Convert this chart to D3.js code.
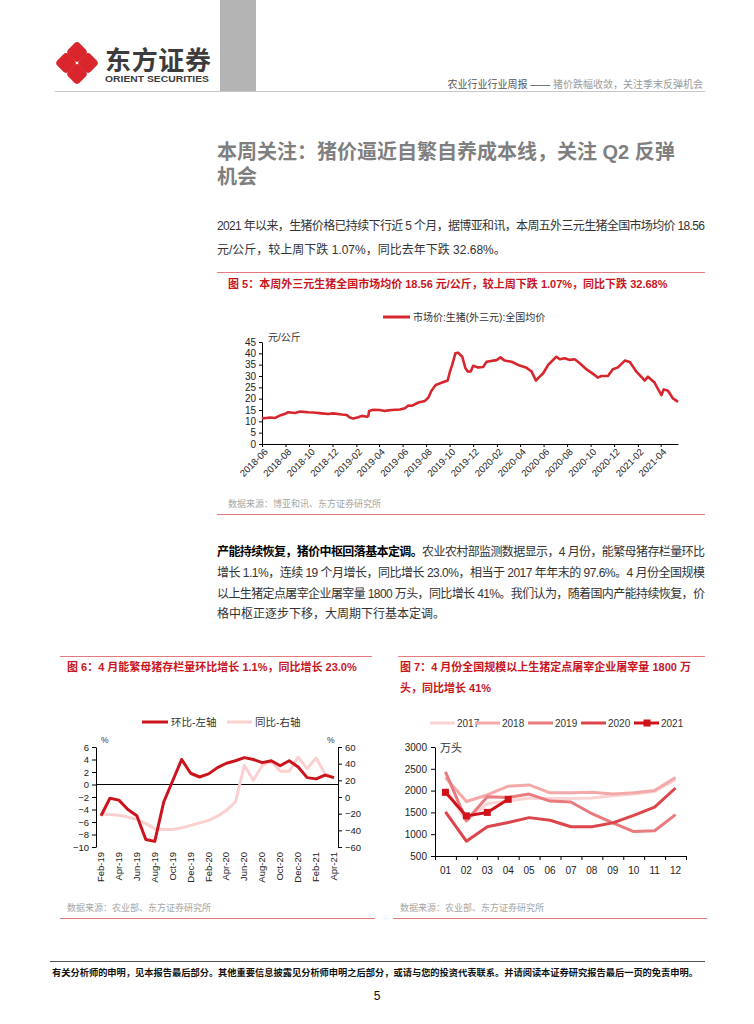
<!DOCTYPE html>
<html><head><meta charset="utf-8">
<script src="https://cdn.jsdelivr.net/npm/d3@7"></script>
<style>
body{margin:0;background:#fff}
svg{display:block}
text{font-family:"Liberation Sans","Noto Sans CJK SC",sans-serif}
</style>
</head><body>
<svg id="c" width="754" height="1024"></svg>
<script>
// ---------------- DATA ----------------
const priceDates = ["2018-06-01","2018-06-12","2018-06-22","2018-07-05","2018-07-18","2018-07-31","2018-08-08","2018-08-26","2018-09-08","2018-09-29","2018-10-20","2018-11-03","2018-11-20","2018-12-03","2018-12-25","2019-01-07","2019-01-15","2019-01-24","2019-02-06","2019-02-15","2019-02-28","2019-03-04","2019-03-06","2019-03-17","2019-04-03","2019-04-16","2019-05-03","2019-05-25","2019-06-07","2019-06-16","2019-06-26","2019-07-12","2019-07-29","2019-08-07","2019-08-15","2019-08-26","2019-09-10","2019-09-26","2019-10-02","2019-10-08","2019-10-16","2019-10-23","2019-11-03","2019-11-11","2019-11-17","2019-11-25","2019-12-01","2019-12-14","2019-12-27","2020-01-05","2020-01-31","2020-02-10","2020-02-21","2020-03-10","2020-03-31","2020-04-18","2020-05-01","2020-05-12","2020-05-22","2020-05-31","2020-06-13","2020-07-04","2020-07-13","2020-07-26","2020-08-08","2020-08-21","2020-09-03","2020-09-20","2020-10-03","2020-10-20","2020-10-29","2020-11-15","2020-11-28","2020-12-11","2020-12-29","2021-01-11","2021-01-28","2021-02-19","2021-02-27","2021-03-16","2021-04-03","2021-04-09","2021-04-20","2021-05-03","2021-05-16"];
const priceValues = [11.3,11.5,11.7,11.5,12.6,13.3,14.0,13.7,14.3,14.0,13.8,13.5,13.2,13.5,13.0,12.8,11.7,11.2,11.8,12.4,12.0,12.3,14.6,15.1,15.0,14.6,15.0,15.2,15.8,17.0,16.9,18.3,19.0,20.5,23.5,26.0,27.0,28.0,32.0,35.0,40.0,40.3,38.5,33.5,32.0,32.0,34.5,33.8,34.0,36.3,37.0,38.2,36.8,36.3,34.6,33.6,32.0,28.0,29.7,31.2,34.9,38.5,37.4,37.8,37.1,37.4,35.6,33.0,31.5,29.3,30.0,30.0,33.0,33.8,36.8,36.2,31.9,28.0,29.7,27.1,21.6,24.1,23.5,20.1,18.6];
const priceTickLabels = ["2018-06","2018-08","2018-10","2018-12","2019-02","2019-04","2019-06","2019-08","2019-10","2019-12","2020-02","2020-04","2020-06","2020-08","2020-10","2020-12","2021-02","2021-04"];
const priceYTicks = [0,5,10,15,20,25,30,35,40,45];

const sowMonths = ["2019-02","2019-03","2019-04","2019-05","2019-06","2019-07","2019-08","2019-09","2019-10","2019-11","2019-12","2020-01","2020-02","2020-03","2020-04","2020-05","2020-06","2020-07","2020-08","2020-09","2020-10","2020-11","2020-12","2021-01","2021-02","2021-03","2021-04"];
const sowMoM = [-5.0,-2.2,-2.5,-4.0,-5.0,-8.8,-9.1,-2.8,0.6,4.0,1.8,1.2,1.7,2.7,3.4,3.8,4.3,4.0,3.5,3.8,3.0,3.8,2.8,1.1,0.9,1.5,1.1];
const sowYoY = [-20,-21,-22,-24,-27,-32,-38,-39,-39,-37,-34,-31,-28,-23,-16,-6,38,20,38,43,31,31,48,34,47,28,23];
const sowLeftTicks = [-10,-8,-6,-4,-2,0,2,4,6];
const sowRightTicks = [-60,-40,-20,0,20,40,60];

const slaughterMonths = ["01","02","03","04","05","06","07","08","09","10","11","12"];
const slaughter2017 = [2050,1300,1700,1760,1830,1820,1820,1830,1880,1920,1980,2250];
const slaughter2018 = [2300,1750,1900,2100,2130,1950,1950,1960,1920,1950,2000,2300];
const slaughter2019 = [2430,1310,1860,1840,1920,1760,1740,1470,1260,1060,1080,1450];
const slaughter2020 = [1510,840,1170,1270,1380,1320,1170,1170,1260,1430,1620,2060];
const slaughter2021 = [1960,1420,1500,1800];
const slaughterYTicks = [500,1000,1500,2000,2500,3000];

// ---------------- DRAW ----------------
const svg = d3.select("#c");
const RED = "#c9161e";
const TXT = "#333333";
const parse = d3.timeParse("%Y-%m-%d");
const parseM = d3.timeParse("%Y-%m");

// ---- header ----
svg.append("rect").attr("x",220).attr("y",0).attr("width",36).attr("height",91).attr("fill","#b4b4b4");
svg.append("line").attr("x1",55).attr("x2",705).attr("y1",91.5).attr("y2",91.5).attr("stroke","#c8c8c8").attr("stroke-width",1);
// logo
const logo = svg.append("g").attr("transform","translate(77,63)");
[[0,-11],[11,0],[0,11],[-11,0]].forEach(([dx,dy])=>{
  logo.append("rect").attr("x",-8).attr("y",-8).attr("width",16).attr("height",16).attr("rx",4)
    .attr("transform",`translate(${dx},${dy}) rotate(45)`).attr("fill","#d9262c");
});
svg.append("text").attr("x",105).attr("y",70).attr("font-size",26).attr("font-weight","bold").attr("fill","#3c3c3c").attr("textLength",106).text("东方证券");
svg.append("text").attr("x",105).attr("y",82).attr("font-size",9).attr("font-weight","bold").attr("fill","#3c3c3c").attr("textLength",104).attr("lengthAdjust","spacingAndGlyphs").text("ORIENT SECURITIES");
const ht = svg.append("text").attr("x",703).attr("y",88).attr("text-anchor","end").attr("font-size",10);
ht.append("tspan").attr("fill","#555").text("农业行业行业周报 —— ");
ht.append("tspan").attr("fill","#9a9a9a").text("猪价跌幅收敛，关注季末反弹机会");

// ---- title ----
svg.append("text").attr("x",217).attr("y",159).attr("font-size",20).attr("font-weight","bold").attr("fill","#7f7f7f").text("本周关注：猪价逼近自繁自养成本线，关注 Q2 反弹");
svg.append("text").attr("x",217).attr("y",184).attr("font-size",20).attr("font-weight","bold").attr("fill","#7f7f7f").text("机会");

// ---- paragraph 1 ----
svg.append("text").attr("x",217).attr("y",230).attr("font-size",12).attr("fill",TXT).attr("textLength",488).attr("lengthAdjust","spacing")
  .text("2021 年以来，生猪价格已持续下行近 5 个月，据博亚和讯，本周五外三元生猪全国市场均价 18.56");
svg.append("text").attr("x",217).attr("y",254).attr("font-size",12).attr("fill",TXT)
  .text("元/公斤，较上周下跌 1.07%，同比去年下跌 32.68%。");

// ---- figure 5 ----
svg.append("line").attr("x1",217).attr("x2",705).attr("y1",272.5).attr("y2",272.5).attr("stroke","#e57a7e").attr("stroke-width",1.2);
svg.append("text").attr("x",228).attr("y",288).attr("font-size",11).attr("font-weight","bold").attr("fill",RED)
  .text("图 5：本周外三元生猪全国市场均价 18.56 元/公斤，较上周下跌 1.07%，同比下跌 32.68%");
svg.append("line").attr("x1",383).attr("x2",410).attr("y1",317).attr("y2",317).attr("stroke","#d7262e").attr("stroke-width",3);
svg.append("text").attr("x",413).attr("y",321).attr("font-size",10).attr("fill",TXT).text("市场价:生猪(外三元):全国均价");
svg.append("text").attr("x",268).attr("y",341).attr("font-size",10).attr("fill",TXT).text("元/公斤");

const x5 = d3.scaleTime().domain([parse(priceDates[0]), parse(priceDates[priceDates.length-1])]).range([262,678]);
const y5 = d3.scaleLinear().domain([0,45]).range([444,342]);
const g5 = svg.append("g");
g5.append("g").attr("transform","translate(262,0)")
  .call(d3.axisLeft(y5).tickValues(priceYTicks).tickSize(3).tickSizeOuter(0).tickPadding(3))
  .call(g=>{g.selectAll("text").attr("font-size",10).attr("fill","#222").style("font-family",'"Liberation Sans",sans-serif');});
const xa5 = g5.append("g").attr("transform","translate(0,444)")
  .call(d3.axisBottom(x5).tickValues(priceTickLabels.map(parseM)).tickSize(3).tickSizeOuter(0).tickFormat(d3.timeFormat("%Y-%m")));
xa5.selectAll("text").attr("font-size",9.5).attr("fill","#222").style("font-family",'"Liberation Sans",sans-serif')
  .attr("text-anchor","end").attr("transform","rotate(-45)").attr("dx","-0.2em").attr("dy","0.55em").attr("y",5).attr("x",0);
g5.selectAll(".domain,.tick line").attr("stroke","#000");
g5.append("path").datum(priceDates.map((d,i)=>[parse(d),priceValues[i]]))
  .attr("fill","none").attr("stroke","#d7262e").attr("stroke-width",2.6).attr("stroke-linejoin","round")
  .attr("d",d3.line().x(d=>x5(d[0])).y(d=>y5(d[1])));
svg.append("text").attr("x",228).attr("y",507).attr("font-size",9).attr("fill","#a6a6a6").text("数据来源：博亚和讯、东方证券研究所");
svg.append("line").attr("x1",217).attr("x2",705).attr("y1",514.5).attr("y2",514.5).attr("stroke","#e57a7e").attr("stroke-width",1.2);

// ---- paragraph 2 ----
const p2 = [
  {b:"产能持续恢复，猪价中枢回落基本定调。", t:"农业农村部监测数据显示，4 月份，能繁母猪存栏量环比", j:true},
  {b:"", t:"增长 1.1%，连续 19 个月增长，同比增长 23.0%，相当于 2017 年年末的 97.6%。4 月份全国规模", j:true},
  {b:"", t:"以上生猪定点屠宰企业屠宰量 1800 万头，同比增长 41%。我们认为，随着国内产能持续恢复，价", j:true},
  {b:"", t:"格中枢正逐步下移，大周期下行基本定调。", j:false}
];
const p2y = [556,577,598,618];
p2.forEach((l,i)=>{
  const t = svg.append("text").attr("x",217).attr("y",p2y[i]).attr("font-size",12).attr("fill",TXT);
  if(l.j) t.attr("textLength",488).attr("lengthAdjust","spacing");
  if(l.b) t.append("tspan").attr("font-weight","bold").attr("fill","#000").text(l.b);
  t.append("tspan").text(l.t);
});

// ---- figure 6 ----
svg.append("line").attr("x1",60).attr("x2",372).attr("y1",656.5).attr("y2",656.5).attr("stroke","#e57a7e").attr("stroke-width",1.2);
svg.append("text").attr("x",67).attr("y",671).attr("font-size",11).attr("font-weight","bold").attr("fill",RED)
  .text("图 6：4 月能繁母猪存栏量环比增长 1.1%，同比增长 23.0%");
svg.append("line").attr("x1",142).attr("x2",168).attr("y1",722).attr("y2",722).attr("stroke","#cc141c").attr("stroke-width",3);
svg.append("text").attr("x",171).attr("y",726).attr("font-size",10.5).attr("fill",TXT).text("环比-左轴");
svg.append("line").attr("x1",227).attr("x2",252).attr("y1",722).attr("y2",722).attr("stroke","#fbd0d0").attr("stroke-width",3);
svg.append("text").attr("x",255).attr("y",726).attr("font-size",10.5).attr("fill",TXT).text("同比-右轴");
svg.append("text").attr("x",101).attr("y",743).attr("font-size",8.5).attr("fill",TXT).text("%");
svg.append("text").attr("x",327).attr("y",743).attr("font-size",8.5).attr("fill",TXT).text("%");

const x6 = d3.scalePoint().domain(sowMonths).range([101,334]);
const yL = d3.scaleLinear().domain([-10,6]).range([847,747]);
const yR = d3.scaleLinear().domain([-60,60]).range([847,747]);
const g6 = svg.append("g");
g6.append("g").attr("transform","translate(96,0)").call(d3.axisLeft(yL).tickValues(sowLeftTicks).tickSize(4).tickSizeOuter(0).tickPadding(3));
g6.append("g").attr("transform","translate(338,0)").call(d3.axisRight(yR).tickValues(sowRightTicks).tickSize(4).tickSizeOuter(0).tickPadding(3));
g6.selectAll("text").attr("font-size",9.5).attr("fill","#222").style("font-family",'"Liberation Sans",sans-serif');
g6.selectAll(".domain,.tick line").attr("stroke","#000");
g6.append("line").attr("x1",96).attr("x2",338).attr("y1",yL(0)).attr("y2",yL(0)).attr("stroke","#000").attr("stroke-width",1);
const fmt6 = d3.timeFormat("%b-%y");
g6.append("g").selectAll("text").data(sowMonths.filter((d,i)=>i%2===0)).join("text")
  .attr("transform",d=>`translate(${x6(d)+3},852) rotate(-90)`).attr("text-anchor","end")
  .attr("font-size",9.5).attr("fill","#222").style("font-family",'"Liberation Sans",sans-serif')
  .text(d=>fmt6(parseM(d)));
g6.append("path").datum(sowYoY).attr("fill","none").attr("stroke","#fbd0d0").attr("stroke-width",3).attr("stroke-linejoin","round")
  .attr("d",d3.line().x((d,i)=>x6(sowMonths[i])).y(d=>yR(d)));
g6.append("path").datum(sowMoM).attr("fill","none").attr("stroke","#cc141c").attr("stroke-width",3).attr("stroke-linejoin","round")
  .attr("d",d3.line().x((d,i)=>x6(sowMonths[i])).y(d=>yL(d)));
svg.append("text").attr("x",67).attr("y",911).attr("font-size",9).attr("fill","#a6a6a6").text("数据来源：农业部、东方证券研究所");
svg.append("line").attr("x1",60).attr("x2",375).attr("y1",918.5).attr("y2",918.5).attr("stroke","#e57a7e").attr("stroke-width",1.2);

// ---- figure 7 ----
svg.append("line").attr("x1",398).attr("x2",705).attr("y1",656.5).attr("y2",656.5).attr("stroke","#e57a7e").attr("stroke-width",1.2);
svg.append("text").attr("x",400).attr("y",671).attr("font-size",11).attr("font-weight","bold").attr("fill",RED)
  .text("图 7：4 月份全国规模以上生猪定点屠宰企业屠宰量 1800 万");
svg.append("text").attr("x",400).attr("y",692).attr("font-size",11).attr("font-weight","bold").attr("fill",RED)
  .text("头，同比增长 41%");
const series7 = [
  {name:"2017", v:slaughter2017, c:"#fbd3d4"},
  {name:"2018", v:slaughter2018, c:"#f3a9aa"},
  {name:"2019", v:slaughter2019, c:"#e97a7e"},
  {name:"2020", v:slaughter2020, c:"#dc454b"},
  {name:"2021", v:slaughter2021, c:"#d0121b", m:true}
];
const legX = [430,475,528,581,634];
series7.forEach((s,i)=>{
  svg.append("line").attr("x1",legX[i]).attr("x2",legX[i]+25).attr("y1",723).attr("y2",723).attr("stroke",s.c).attr("stroke-width",3);
  if(s.m) svg.append("rect").attr("x",legX[i]+9.5).attr("y",719.5).attr("width",7).attr("height",7).attr("fill",s.c);
  svg.append("text").attr("x",legX[i]+27).attr("y",727).attr("font-size",10).attr("fill",TXT).text(s.name);
});
const x7 = d3.scaleBand().domain(slaughterMonths).range([435,686]).padding(0);
const x7b = d3.scaleLinear().domain([0,12]).range([435,686]);
const y7 = d3.scaleLinear().domain([500,3000]).range([856,747]);
const g7 = svg.append("g");
g7.append("g").attr("transform","translate(435,0)").call(d3.axisLeft(y7).tickValues(slaughterYTicks).tickFormat(d3.format("d")).tickSize(4).tickSizeOuter(0).tickPadding(4));
g7.append("g").attr("transform","translate(0,856)").call(d3.axisBottom(x7b).tickValues(d3.range(0,13)).tickSize(4).tickSizeOuter(0).tickFormat(""));
g7.append("g").selectAll("text").data(slaughterMonths).join("text")
  .attr("x",d=>x7(d)+x7.bandwidth()/2).attr("y",874).attr("text-anchor","middle").text(d=>d);
g7.selectAll("text").attr("font-size",10).attr("fill","#222").style("font-family",'"Liberation Sans",sans-serif');
g7.selectAll(".domain,.tick line").attr("stroke","#000");
svg.append("text").attr("x",440).attr("y",752).attr("font-size",11).attr("fill",TXT).text("万头");
const line7 = d3.line().x((d,i)=>x7(slaughterMonths[i])+x7.bandwidth()/2).y(d=>y7(d));
series7.forEach(s=>{
  g7.append("path").datum(s.v).attr("fill","none").attr("stroke",s.c).attr("stroke-width",3).attr("stroke-linejoin","round").attr("d",line7);
  if(s.m) g7.selectAll(null).data(s.v).join("rect")
    .attr("x",(d,i)=>x7(slaughterMonths[i])+x7.bandwidth()/2-3.5).attr("y",d=>y7(d)-3.5)
    .attr("width",7).attr("height",7).attr("fill",s.c);
});
svg.append("text").attr("x",400).attr("y",911).attr("font-size",9).attr("fill","#a6a6a6").text("数据来源：农业部、东方证券研究所");
svg.append("line").attr("x1",393).attr("x2",707).attr("y1",918.5).attr("y2",918.5).attr("stroke","#e57a7e").attr("stroke-width",1.2);

// ---- footer ----
svg.append("line").attr("x1",50).attr("x2",705).attr("y1",961.5).attr("y2",961.5).attr("stroke","#555").attr("stroke-width",1);
svg.append("text").attr("x",52).attr("y",976).attr("font-size",9).attr("font-weight","bold").attr("fill","#111").attr("textLength",646).attr("lengthAdjust","spacingAndGlyphs")
  .text("有关分析师的申明，见本报告最后部分。其他重要信息披露见分析师申明之后部分，或请与您的投资代表联系。并请阅读本证券研究报告最后一页的免责申明。");
svg.append("text").attr("x",377).attr("y",1000).attr("text-anchor","middle").attr("font-size",12).attr("fill","#111").text("5");
</script>
</body></html>
